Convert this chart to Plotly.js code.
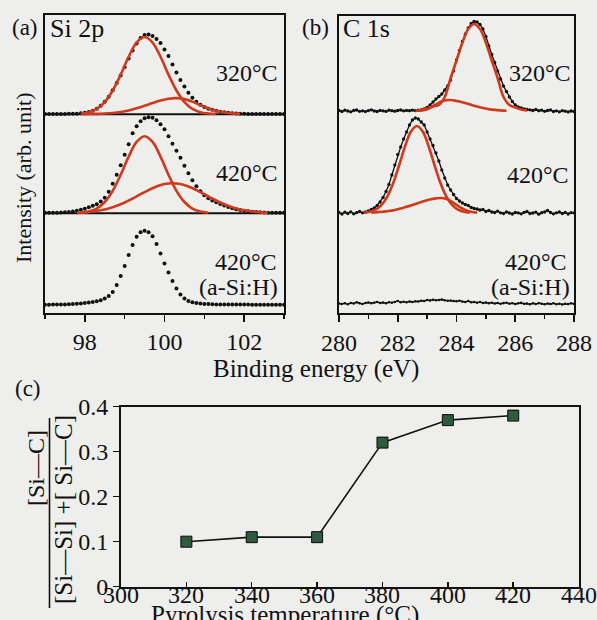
<!DOCTYPE html>
<html>
<head>
<meta charset="utf-8">
<script src="https://cdn.plot.ly/plotly-3.0.1.min.js"></script>
<style>html,body{margin:0;padding:0;background:#eeeeec;}#chart{width:597px;height:620px;}</style>
</head>
<body>
<div id="chart"></div>
<script>
// ---------- Panel (a) Si 2p : energy grid 97.0 .. 103.0 step 0.1 ----------
const siStart = 97.0, siStep = 0.1;
const si320 = [0.2,0.2,0.2,0.2,0.2,0.2,0.3,0.3,0.5,0.8,
  1.3,2.2,3.5,5.5,8.5,12.5,17.5,24,31,38.5,
  47,55.5,63.5,70.5,76,79,79.5,78,75,71,
  64.5,58,49.5,41.5,34,27.5,21.5,16.5,12.5,9.5,
  7.2,5.5,4.3,3.3,2.5,1.9,1.4,1.0,0.7,0.5,
  0.3,0.2,0.2,0.2,0.2,0.2,0.2,0.2,0.2,0.2,0.2];
const si420 = [0.5,0.5,0.6,0.7,0.9,1.1,1.4,1.9,2.6,3.5,
  4.6,6,7.6,9,11.8,15.5,21.5,29.5,38.5,48,
  58.5,69,80,87,92,95,96,95.5,93,89,
  84,77,69.5,62.5,55.5,47.5,40,33,27,22,
  18,15,12.8,11,9.2,7.7,6.3,5.1,4.1,3.3,
  2.6,2.1,1.7,1.4,1.1,0.9,0.7,0.6,0.5,0.5,0.5];
const siH = [0.3,0.3,0.4,0.4,0.5,0.6,0.7,0.9,1.2,1.5,
  2.0,2.5,3.0,3.8,4.8,6.5,9,13,20,29,
  39,50,60,68,72.5,74,72.5,68.5,61,51.5,
  41.5,32.5,24,16.5,10.5,6.5,4,2.8,2.0,1.5,
  1.1,0.9,0.7,0.6,0.5,0.5,0.4,0.4,0.4,0.4,
  0.4,0.4,0.3,0.3,0.3,0.3,0.3,0.3,0.3,0.3,0.3];
// fitted components (step 0.2)
const si320MainStart = 97.9;
const si320Main = [0.7,2.0,5.3,12.1,23.6,39.5,57.3,71.5,77,71.5,57.3,39.5,23.6,12.1,5.3,2.0,0.7,0.2];
const si320SubStart = 97.9;
const si320Sub = [0.1,0.1,0.3,0.6,1.2,2.2,3.7,5.8,8.3,11.1,13.6,15.4,16,15,12.5,9,6,3.5,1.8,0.8,0.3];
const si420MainStart = 97.9;
const si420Main = [0.6,1.8,4.8,11.3,22.5,38.5,56.6,71.3,77,71.3,56.6,38.5,22.5,11.3,4.8,1.8,0.6];
const si420SubStart = 97.8;
const si420Sub = [0.5,1.0,1.8,3.0,4.9,7.5,10.8,14.8,19.1,23.2,26.8,29.2,30,29.2,26.8,23.2,19.1,14.8,10.8,7.5,4.9,3.0,1.8,1.0,0.5];
const siOffsets = {s320: 190.5, s420: 91.5, sH: 0};

// ---------- Panel (b) C 1s : energy grid 280.0 .. 288.0 step 0.1 ----------
const cStart = 280.0, cStep = 0.1;
const c320 = [0.5,-0.5,0.8,0,-0.8,0.5,1,-0.3,0.2,-0.6,
  0.4,1.2,0,-0.5,0.6,0.2,-0.4,0.8,0.3,-0.2,
  0.5,1.0,0.2,0.6,0.3,0.8,0.4,0.8,1.2,2.0,
  3.5,6,9,12,14.5,17,21,25,31,40,
  51,60.5,69.5,77,83,87.5,89.5,89,86.5,82,
  74.5,65,56.5,48.5,40,32,25,19.5,14,9.5,
  6,4,3,2,1.5,1.2,0.5,1.5,0.3,0.8,
  -0.3,0.5,1.0,-0.5,0.2,-0.8,0.3,-0.2,-0.9,0,-0.5];
const c420 = [0.5,-1,0.8,-0.5,1.2,-0.8,0.3,1.5,0.2,1.0,
  2.0,3.5,5,7.5,11,15.5,21.5,28.5,38,48,
  58.5,66,74,81,88,93,95,94,91,88,
  81,74,67.5,60,52,43,35,28,23,18.5,
  14.5,12,10,8.5,7.5,5.5,4.5,4,3,3.5,
  1.5,2.5,1,0.5,1.8,0.2,-0.5,1,0,-1,
  0.5,0.2,-0.8,0.6,1.5,-0.5,0,0.8,-1.2,0.3,
  1,2.5,0.5,-0.8,0.2,1,-0.5,0.6,-1,0.4,0.2];
const cH = [0,-0.5,0.3,-0.8,0.5,0,1.2,0.2,-0.5,0.5,
  1,0.3,0.8,1.5,0.5,1,0.2,1.3,0.8,1.5,
  2.5,1.2,1.8,1.2,2,1.5,2.2,2,2.8,2.5,
  3.5,3,3.8,3.2,3.5,4,3.2,2.8,3,2.5,
  2.2,2.8,1.8,1.5,2.5,1.2,1.5,0.8,1.5,0.5,
  1,0.3,0.8,0,0.5,-0.3,0.4,0.8,-0.2,0.3,
  -0.5,0.2,0.6,-0.3,0,-0.8,0.2,-0.5,0.3,-0.2,
  -0.8,0,-0.5,0.2,-0.7,-0.2,-1,-0.3,-0.6,0.2,-0.4];
const c320MainStart = 282.6;
const c320Main = [0.2,0.6,1.8,4.5,6,14,33.0,50.5,68.3,81.9,87,81.9,68.3,50.5,33.0,14,6,3.5,1.5,0.5];
const c320SubStart = 282.7;
const c320Sub = [0.5,1.5,3.6,6.7,9.7,11,10.6,9.5,8.0,6.2,4.5,3.1,1.9,1.1,0.6,0.3];
const c420MainStart = 280.85;
const c420Main = [0.4,1.3,3.4,8.1,16.7,30.2,48.0,66.8,81.4,87,81.4,66.8,48.0,30.2,16.7,8.1,3.4,1.3,0.4];
const c420SubStart = 281.1;
const c420Sub = [0.4,0.75,1.3,2.0,3.1,4.5,6.2,8.1,10.1,12.0,13.6,14.6,15,13.6,10.1,6.2,3.1,1.3,0.4];
const cOffsets = {s320: 192.5, s420: 90.5, sH: 0};

// ---------- Panel (c) ----------
const temps = [320, 340, 360, 380, 400, 420];
const ratio = [0.10, 0.11, 0.11, 0.32, 0.37, 0.38];
const tempTicks = [300, 320, 340, 360, 380, 400, 420, 440];

// ---------- helpers ----------
function grid(start, step, n) { const a = []; for (let i = 0; i < n; i++) a.push(+(start + i * step).toFixed(3)); return a; }
function shift(arr, off) { return arr.map(v => v + off); }
const W = 597, H = 620;
const px = x => x / W, py = y => 1 - y / H;

const BLACK = '#111111', RED = '#cf3a1c';
const FONT = '"Liberation Serif", "Times New Roman", serif';

function dots(vals, start, step, off, xa, ya, size, withLine) {
  return {x: grid(start, step, vals.length), y: shift(vals, off), xaxis: xa, yaxis: ya,
    type: 'scatter', mode: withLine ? 'lines+markers' : 'markers',
    marker: {color: BLACK, size: size}, line: {color: BLACK, width: 1.3}, hoverinfo: 'skip', showlegend: false};
}
function fit(vals, start, off, xa, ya) {
  return {x: grid(start, 0.2, vals.length), y: shift(vals, off), xaxis: xa, yaxis: ya,
    type: 'scatter', mode: 'lines', line: {color: RED, width: 2.6, shape: 'spline', smoothing: 1},
    hoverinfo: 'skip', showlegend: false};
}

const traces = [
  dots(si320, siStart, siStep, siOffsets.s320, 'x', 'y', 4, false),
  dots(si420, siStart, siStep, siOffsets.s420, 'x', 'y', 4, false),
  dots(siH, siStart, siStep, siOffsets.sH, 'x', 'y', 4, false),
  fit(si320Main, si320MainStart, siOffsets.s320, 'x', 'y'),
  fit(si320Sub, si320SubStart, siOffsets.s320, 'x', 'y'),
  fit(si420Main, si420MainStart, siOffsets.s420, 'x', 'y'),
  fit(si420Sub, si420SubStart, siOffsets.s420, 'x', 'y'),
  dots(c320, cStart, cStep, cOffsets.s320, 'x2', 'y2', 3.3, true),
  dots(c420, cStart, cStep, cOffsets.s420, 'x2', 'y2', 3.3, true),
  dots(cH, cStart, cStep, cOffsets.sH, 'x2', 'y2', 2.6, true),
  fit(c320Main, c320MainStart, cOffsets.s320, 'x2', 'y2'),
  fit(c320Sub, c320SubStart, cOffsets.s320, 'x2', 'y2'),
  fit(c420Main, c420MainStart, cOffsets.s420, 'x2', 'y2'),
  fit(c420Sub, c420SubStart, cOffsets.s420, 'x2', 'y2'),
  {x: temps, y: ratio, xaxis: 'x3', yaxis: 'y3', type: 'scatter', mode: 'lines+markers',
   line: {color: BLACK, width: 1.6},
   marker: {symbol: 'square', size: 11, color: '#2e5a40', line: {color: '#0a0a0a', width: 1}},
   hoverinfo: 'skip', showlegend: false}
];

const tickFont = {family: FONT, size: 24, color: BLACK};
function specX(domain, range, anchor, dtick, minor) {
  return {domain: domain, range: range, anchor: anchor, showgrid: false, zeroline: false,
    showline: true, linecolor: BLACK, linewidth: 2, mirror: true,
    ticks: 'outside', ticklen: 7, tickwidth: 1.6, tickcolor: BLACK, dtick: dtick, tick0: range[0],
    minor: {dtick: minor, ticks: 'outside', ticklen: 4, tickwidth: 1.3, tickcolor: BLACK, showgrid: false},
    tickfont: tickFont, fixedrange: true};
}
function specY(domain, range, anchor) {
  return {domain: domain, range: range, anchor: anchor, showgrid: false, zeroline: false,
    showline: true, linecolor: BLACK, linewidth: 2, mirror: true, ticks: '', showticklabels: false, fixedrange: true};
}

const layout = {
  width: W, height: H, margin: {l: 0, r: 0, t: 0, b: 0},
  paper_bgcolor: '#eeeeec', plot_bgcolor: '#eeeeec',
  font: {family: FONT, color: BLACK},
  xaxis: Object.assign(specX([px(45), px(284)], [97, 103], 'y', 2, 1), {tickvals: [98, 100, 102]}),
  yaxis: specY([py(312.5), py(15)], [-7.5, 289.5], 'x'),
  xaxis2: specX([px(339), px(574)], [280, 288], 'y2', 2, 1),
  yaxis2: specY([py(313), py(16)], [-9.5, 287.5], 'x2'),
  xaxis3: {domain: [px(121), px(578.6)], range: [300, 440], anchor: 'y3', tickvals: tempTicks,
    showgrid: false, zeroline: false, showline: true, linecolor: BLACK, linewidth: 2, mirror: true,
    ticks: 'inside', ticklen: 5, tickwidth: 1.5, tickcolor: BLACK, showticklabels: false, fixedrange: true},
  yaxis3: {domain: [py(586.7), py(406.6)], range: [0, 0.4], anchor: 'x3', dtick: 0.1,
    showgrid: false, zeroline: false, showline: true, linecolor: BLACK, linewidth: 2, mirror: true,
    ticks: 'outside', ticklen: 6, tickwidth: 1.5, tickcolor: BLACK, tickfont: {family: FONT, size: 24, color: BLACK}, fixedrange: true},
  shapes: [
    {type: 'line', xref: 'x', yref: 'y', x0: 97, x1: 103, y0: siOffsets.s320, y1: siOffsets.s320, line: {color: BLACK, width: 2}, layer: 'below'},
    {type: 'line', xref: 'x', yref: 'y', x0: 97, x1: 103, y0: siOffsets.s420, y1: siOffsets.s420, line: {color: BLACK, width: 2}, layer: 'below'},
    {type: 'line', xref: 'paper', yref: 'paper', x0: px(49.5), x1: px(49.5), y0: py(608), y1: py(418), line: {color: BLACK, width: 1.6}}
  ],
  annotations: []
};

function ann(text, x, y, opts) {
  return Object.assign({text: text, xref: 'paper', yref: 'paper', x: px(x), y: py(y), showarrow: false,
    xanchor: 'center', yanchor: 'middle', font: {family: FONT, size: 24, color: BLACK}}, opts || {});
}
const f = s => ({family: FONT, size: s, color: BLACK});
const A = layout.annotations;
A.push(ann('(a)', 25, 27, {font: f(23)}));
A.push(ann('Si 2p', 48, 28, {xanchor: 'left', font: f(26)}));
A.push(ann('(b)', 315, 27, {font: f(23)}));
A.push(ann('C 1s', 341, 28, {xanchor: 'left', font: f(26)}));
A.push(ann('320°C', 280, 73, {xanchor: 'right'}));
A.push(ann('420°C', 280, 173, {xanchor: 'right'}));
A.push(ann('420°C', 279, 262, {xanchor: 'right'}));
A.push(ann('(a-Si:H)', 280, 287, {xanchor: 'right'}));
A.push(ann('320°C', 573, 73, {xanchor: 'right'}));
A.push(ann('420°C', 571, 175, {xanchor: 'right'}));
A.push(ann('420°C', 569, 262, {xanchor: 'right'}));
A.push(ann('(a-Si:H)', 572, 287, {xanchor: 'right'}));
A.push(ann('Intensity (arb. unit)', 23, 178, {textangle: -90, font: f(22)}));
A.push(ann('Binding energy (eV)', 316, 369, {font: f(25)}));
A.push(ann('(c)', 28, 388, {font: f(23)}));
A.push(ann('[Si—C]', 36, 468, {textangle: -90}));
A.push(ann('[Si—Si] +[ Si—C]', 63, 510, {textangle: -90, font: f(25)}));
// x tick labels of panel (c), placed on the x3 scale just under the axis
tempTicks.forEach(t => A.push({text: String(t), xref: 'x3', yref: 'paper', x: t, y: py(595), yanchor: 'middle',
  showarrow: false, xanchor: 'center', font: f(24)}));
A.push(ann('Pyrolysis temperature (°C)', 285, 615, {font: f(25)}));

Plotly.newPlot('chart', traces, layout, {staticPlot: true, displayModeBar: false});
</script>
</body>
</html>
